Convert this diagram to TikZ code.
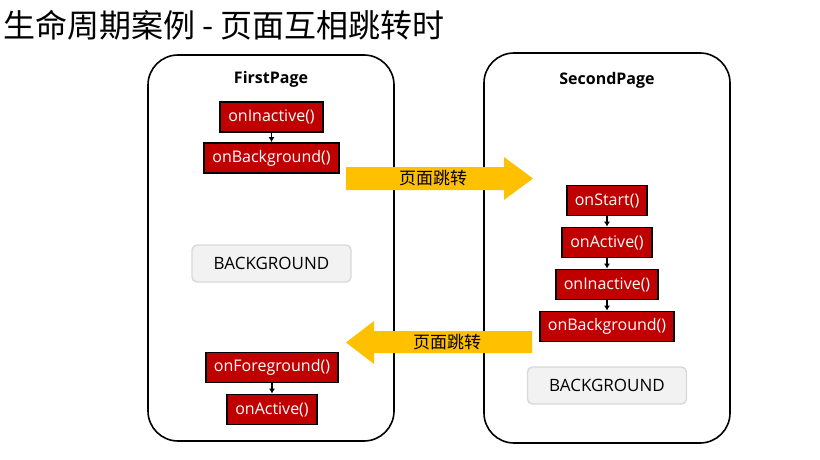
\documentclass[tikz,border=0pt]{standalone}
\usepackage{fontspec}
\setmainfont{Open Sans}
\newfontfamily\cjk{Noto Sans CJK SC}
\usetikzlibrary{arrows.meta}

\definecolor{hookred}{HTML}{C00000}
\definecolor{jumpyellow}{HTML}{FFC000}
\definecolor{stategray}{HTML}{F2F2F2}
\definecolor{stateline}{HTML}{D9D9D9}

\begin{document}
\begin{tikzpicture}[x=1pt,y=-1pt,
  page/.style={draw=black,line width=1.6pt,rounded corners=30pt},
  pagename/.style={font=\fontsize{16}{19}\selectfont\bfseries},
  hook/.style={draw=black,line width=1.8pt,fill=hookred,text=white,
    font=\fontsize{16}{19}\selectfont,minimum height=30pt,inner xsep=8pt},
  state/.style={draw=stateline,line width=1.4pt,fill=stategray,rounded corners=5pt,
    font=\fontsize{17}{20}\selectfont,minimum width=159pt,minimum height=37pt},
  next/.style={-{Latex[length=5pt,width=6pt]},line width=1.2pt},
  jump/.style={fill=jumpyellow},
  jumptext/.style={font=\cjk\fontsize{17}{20}\selectfont}]
  \useasboundingbox (0,0) rectangle (820,460);

  % title
  \node[anchor=west,font=\cjk\fontsize{32}{38}\selectfont] (title) at (0,25)
    {生命周期案例 - 页面互相跳转时};

  % pages
  \draw[page] (148,55) rectangle (394,441);
  \draw[page] (484,53) rectangle (730,443);

  % FirstPage
  \node[pagename] (fpname) at (271,79) {FirstPage};
  \node[hook] (fpinactive)   at (271.5,117) {onInactive()};
  \node[hook] (fpbackground) at (271.5,158) {onBackground()};
  \node[state] (fpstate)     at (271.5,263.5) {BACKGROUND};
  \node[hook] (fpforeground) at (272,367.5) {onForeground()};
  \node[hook] (fpactive)     at (272,409.5) {onActive()};
  \draw[next] (fpinactive) -- (fpbackground);
  \draw[next] (fpforeground) -- (fpactive);

  % SecondPage
  \node[pagename] (spname) at (607,80) {SecondPage};
  \node[hook] (spstart)      at (607,200.5) {onStart()};
  \node[hook] (spactive)     at (607,242.5) {onActive()};
  \node[hook] (spinactive)   at (607,284.5) {onInactive()};
  \node[hook] (spbackground) at (607,326.5) {onBackground()};
  \node[state] (spstate)     at (607,385.5) {BACKGROUND};
  \draw[next] (spstart) -- (spactive);
  \draw[next] (spactive) -- (spinactive);
  \draw[next] (spinactive) -- (spbackground);

  % jumps between pages
  \fill[jump] (346,167) -- (504,167) -- (504,157) -- (533,178.5)
    -- (504,200) -- (504,190) -- (346,190) -- cycle;
  \node[jumptext] (gofwd) at (433,178.5) {页面跳转};
  \fill[jump] (532,331) -- (374,331) -- (374,321) -- (346,342.5)
    -- (374,364) -- (374,353) -- (532,353) -- cycle;
  \node[jumptext] (goback) at (447,342.5) {页面跳转};
\end{tikzpicture}
\end{document}
